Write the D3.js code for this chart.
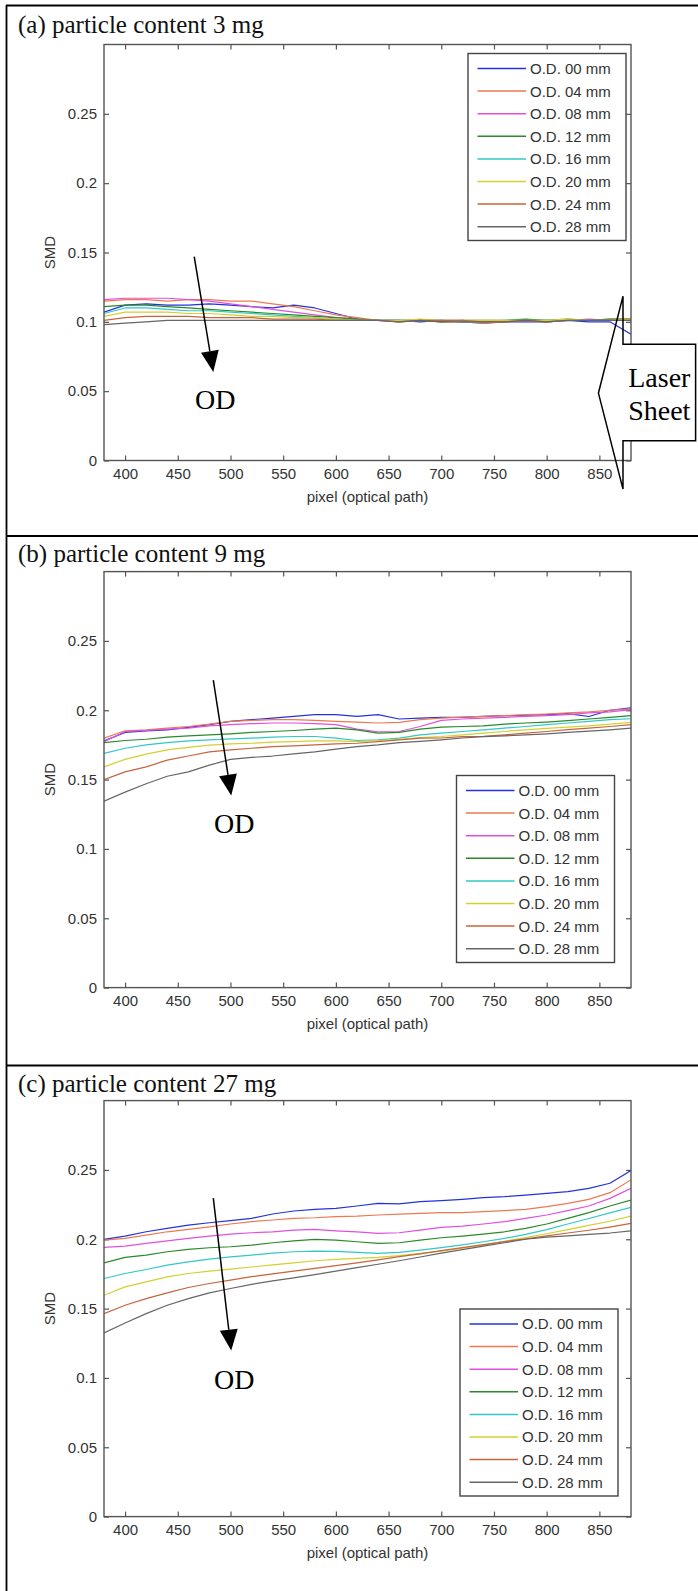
<!DOCTYPE html>
<html>
<head>
<meta charset="utf-8">
<script src="https://cdn.jsdelivr.net/npm/d3@7"></script>
<style>
  body { margin: 0; background: #fff; }
  svg { display: block; }
</style>
</head>
<body>
<div id="chart"></div>
<script>
// ---- DATA ----
const X_VALUES = [380, 400, 420, 440, 460, 480, 500, 520, 540, 560, 580, 600, 620,
  640, 660, 680, 700, 720, 740, 760, 780, 800, 820, 840, 860, 880];
const X_TICKS = [400, 450, 500, 550, 600, 650, 700, 750, 800, 850];
const Y_TICKS = [0, 0.05, 0.1, 0.15, 0.2, 0.25];
const Y_TICK_LABELS = ["0", "0.05", "0.1", "0.15", "0.2", "0.25"];
const X_DOMAIN = [380, 880];
const Y_DOMAIN = [0, 0.3];

const SERIES_LABELS = ["O.D. 00 mm", "O.D. 04 mm", "O.D. 08 mm", "O.D. 12 mm",
  "O.D. 16 mm", "O.D. 20 mm", "O.D. 24 mm", "O.D. 28 mm"];
const SERIES_COLORS = ["#2233dd", "#f07850", "#e050e0", "#2a8a2a",
  "#30c8c8", "#d4d030", "#c8643c", "#666666"];

const PANEL_TITLES = ["(a) particle content 3 mg", "(b) particle content 9 mg",
  "(c) particle content 27 mg"];

// SMD per optical depth, particle content 3 mg
const SMD_3MG = [
  [0.107,0.112,0.113,0.112,0.112,0.113,0.112,0.111,0.110,0.112,0.110,0.106,0.102,0.101,0.101,0.100,0.101,0.100,0.099,0.100,0.100,0.100,0.101,0.100,0.100,0.091],
  [0.115,0.116,0.116,0.115,0.116,0.116,0.115,0.115,0.113,0.111,0.108,0.105,0.103,0.101,0.101,0.101,0.100,0.100,0.099,0.100,0.101,0.100,0.101,0.101,0.102,0.102],
  [0.116,0.117,0.117,0.117,0.116,0.115,0.113,0.111,0.109,0.107,0.105,0.103,0.102,0.101,0.100,0.101,0.101,0.101,0.100,0.100,0.101,0.101,0.101,0.102,0.101,0.102],
  [0.111,0.112,0.112,0.111,0.110,0.109,0.108,0.107,0.106,0.105,0.104,0.103,0.102,0.101,0.101,0.101,0.100,0.101,0.101,0.101,0.102,0.101,0.102,0.101,0.102,0.102],
  [0.106,0.110,0.110,0.109,0.108,0.108,0.107,0.106,0.105,0.104,0.103,0.102,0.101,0.101,0.101,0.101,0.101,0.100,0.100,0.101,0.101,0.101,0.101,0.101,0.101,0.101],
  [0.104,0.107,0.107,0.107,0.106,0.106,0.105,0.104,0.104,0.103,0.103,0.102,0.101,0.101,0.101,0.102,0.101,0.101,0.101,0.101,0.101,0.101,0.102,0.101,0.101,0.102],
  [0.101,0.103,0.104,0.104,0.104,0.103,0.103,0.103,0.102,0.102,0.102,0.101,0.101,0.101,0.100,0.101,0.101,0.101,0.100,0.100,0.101,0.100,0.101,0.101,0.101,0.101],
  [0.098,0.099,0.100,0.101,0.101,0.101,0.101,0.101,0.101,0.101,0.101,0.101,0.101,0.101,0.100,0.101,0.100,0.100,0.100,0.100,0.101,0.100,0.101,0.101,0.101,0.101],
];

// particle content 9 mg
const SMD_9MG = [
  [0.1779,0.1840,0.1852,0.1859,0.1876,0.1896,0.1920,0.1932,0.1944,0.1956,0.1968,0.1968,0.1956,0.1968,0.1937,0.1944,0.1949,0.1949,0.1956,0.1961,0.1964,0.1968,0.1976,0.1955,0.2000,0.2017],
  [0.1799,0.1852,0.1859,0.1871,0.1883,0.1900,0.1920,0.1927,0.1932,0.1932,0.1927,0.1920,0.1915,0.1908,0.1913,0.1932,0.1944,0.1951,0.1956,0.1961,0.1968,0.1973,0.1981,0.1988,0.2000,0.2010],
  [0.1774,0.1847,0.1854,0.1864,0.1871,0.1888,0.1896,0.1903,0.1908,0.1908,0.1903,0.1896,0.1864,0.1845,0.1847,0.1883,0.1927,0.1937,0.1944,0.1949,0.1956,0.1961,0.1968,0.1981,0.1988,0.2005],
  [0.1767,0.1782,0.1791,0.1806,0.1816,0.1823,0.1830,0.1840,0.1847,0.1854,0.1864,0.1871,0.1859,0.1835,0.1840,0.1864,0.1879,0.1883,0.1888,0.1900,0.1908,0.1915,0.1925,0.1937,0.1949,0.1961],
  [0.1689,0.1726,0.1750,0.1767,0.1779,0.1786,0.1794,0.1799,0.1806,0.1811,0.1811,0.1799,0.1782,0.1786,0.1799,0.1823,0.1835,0.1847,0.1859,0.1871,0.1883,0.1896,0.1908,0.1920,0.1932,0.1939],
  [0.1592,0.1646,0.1684,0.1714,0.1733,0.1748,0.1757,0.1762,0.1770,0.1774,0.1779,0.1779,0.1774,0.1782,0.1791,0.1803,0.1811,0.1823,0.1835,0.1847,0.1859,0.1869,0.1879,0.1888,0.1900,0.1913],
  [0.1500,0.1556,0.1592,0.1640,0.1670,0.1700,0.1714,0.1726,0.1738,0.1743,0.1750,0.1757,0.1762,0.1774,0.1786,0.1799,0.1800,0.1810,0.1812,0.1823,0.1835,0.1847,0.1860,0.1871,0.1883,0.1896],
  [0.1345,0.1410,0.1470,0.1524,0.1556,0.1604,0.1646,0.1660,0.1670,0.1685,0.1700,0.1720,0.1738,0.1750,0.1767,0.1775,0.1786,0.1800,0.1810,0.1815,0.1823,0.1830,0.1840,0.1850,0.1859,0.1871],
];

// particle content 27 mg
const SMD_27MG = [
  [0.1999,0.2023,0.2054,0.2078,0.2102,0.2119,0.2134,0.2151,0.2182,0.2204,0.2216,0.2223,0.2240,0.2259,0.2255,0.2271,0.2278,0.2288,0.2300,0.2307,0.2319,0.2331,0.2343,0.2367,0.2404,0.2495],
  [0.1994,0.2006,0.2030,0.2054,0.2071,0.2090,0.2110,0.2127,0.2139,0.2151,0.2155,0.2163,0.2167,0.2175,0.2182,0.2187,0.2192,0.2192,0.2199,0.2206,0.2216,0.2235,0.2259,0.2288,0.2336,0.2428],
  [0.1941,0.1951,0.1970,0.1989,0.2006,0.2023,0.2037,0.2047,0.2054,0.2066,0.2071,0.2061,0.2054,0.2042,0.2047,0.2066,0.2086,0.2095,0.2110,0.2127,0.2151,0.2175,0.2206,0.2240,0.2295,0.2367],
  [0.1830,0.1869,0.1886,0.1910,0.1927,0.1939,0.1946,0.1958,0.1975,0.1989,0.1999,0.1994,0.1982,0.1970,0.1975,0.1994,0.2011,0.2023,0.2037,0.2054,0.2078,0.2110,0.2151,0.2192,0.2240,0.2283],
  [0.1717,0.1753,0.1782,0.1813,0.1837,0.1857,0.1873,0.1886,0.1900,0.1910,0.1915,0.1912,0.1905,0.1898,0.1905,0.1922,0.1940,0.1960,0.1982,0.2006,0.2035,0.2070,0.2110,0.2150,0.2190,0.2230],
  [0.1596,0.1657,0.1693,0.1729,0.1753,0.1770,0.1785,0.1800,0.1815,0.1830,0.1845,0.1855,0.1862,0.1870,0.1882,0.1898,0.1915,0.1935,0.1958,0.1985,0.2012,0.2040,0.2070,0.2100,0.2130,0.2167],
  [0.1464,0.1524,0.1572,0.1613,0.1652,0.1681,0.1705,0.1730,0.1750,0.1770,0.1790,0.1810,0.1830,0.1852,0.1875,0.1895,0.1918,0.1940,0.1962,0.1983,0.2003,0.2025,0.2045,0.2065,0.2088,0.2114],
  [0.1324,0.1396,0.1464,0.1524,0.1572,0.1613,0.1645,0.1675,0.1700,0.1722,0.1745,0.1770,0.1795,0.1820,0.1845,0.1872,0.1900,0.1925,0.1950,0.1975,0.2000,0.2015,0.2025,0.2035,0.2045,0.2061],
];

// "OD" arrows, data units: [x0, y0, x1, y1, labelX, labelY]
const OD_ARROWS = [
  [465.6, 0.147, 483.7, 0.0638, 485.5, 0.044],
  [483.7, 0.2217, 500.7, 0.1385, 503.6, 0.1187],
  [483.7, 0.2297, 500.7, 0.1197, 503.6, 0.0993],
];

// "Laser Sheet" callout outline in panel (a), data units
const LASER_SHEET_SHAPE = [
  [872.4, 0.1185], [872.4, 0.0839], [941.3, 0.0839], [941.3, 0.0143],
  [872.4, 0.0143], [872.4, -0.0206], [849.1, 0.0486],
];

// ---- LAYOUT ----
const W = 698, H = 1591;
const AXIS_LEFT = 104, AXIS_RIGHT = 631, AXIS_H = 416;
const SANS = "'Liberation Sans', Arial, Helvetica, sans-serif";
const SERIF = "'Liberation Serif', 'Times New Roman', Times, serif";
const AXIS_COLOR = "#555";
const TEXT_COLOR = "#333";

const panels = [
  { title: PANEL_TITLES[0], series: SMD_3MG, top: 5.5, titleY: 33, bottom: 460.5, legend: [468, 53.5], arrow: OD_ARROWS[0], laser: true },
  { title: PANEL_TITLES[1], series: SMD_9MG, top: 536, titleY: 562, bottom: 987.6, legend: [456.5, 775.5], arrow: OD_ARROWS[1] },
  { title: PANEL_TITLES[2], series: SMD_27MG, top: 1065.5, titleY: 1092, bottom: 1516.6, legend: [460, 1309], arrow: OD_ARROWS[2] },
];

const svg = d3.select("#chart")
  .append("svg")
  .attr("width", W)
  .attr("height", H);

svg.append("rect").attr("width", W).attr("height", H).attr("fill", "#fff");

// outer table frame
const frame = svg.append("g").attr("stroke", "#000").attr("stroke-width", 1.8);
frame.append("line").attr("x1", 6.5).attr("x2", 6.5).attr("y1", 5).attr("y2", H);
panels.forEach((p) => {
  frame.append("line").attr("x1", 6).attr("x2", W).attr("y1", p.top).attr("y2", p.top);
});

panels.forEach((p, pi) => drawPanel(p, pi));

function drawPanel(p, pi) {
  const x = d3.scaleLinear().domain(X_DOMAIN).range([AXIS_LEFT, AXIS_RIGHT]);
  const y = d3.scaleLinear().domain(Y_DOMAIN).range([p.bottom, p.bottom - AXIS_H]);
  const g = svg.append("g");
  const top = p.bottom - AXIS_H;

  g.append("text")
    .attr("x", 18)
    .attr("y", p.titleY)
    .attr("font-family", SERIF)
    .attr("font-size", "25px")
    .attr("fill", "#111")
    .text(p.title);

  // 1. axes (ticks on all four sides, pointing inward)
  const styleAxis = (sel) => {
    sel.select(".domain").remove();
    sel.selectAll(".tick line").attr("stroke", AXIS_COLOR).attr("stroke-width", 1.2);
    sel.selectAll(".tick text")
      .attr("fill", TEXT_COLOR)
      .attr("font-family", SANS)
      .attr("font-size", "15px");
  };

  g.append("g")
    .attr("transform", `translate(0,${p.bottom})`)
    .call(d3.axisBottom(x).tickValues(X_TICKS).tickSizeInner(-5).tickSizeOuter(0).tickPadding(8))
    .call(styleAxis);
  g.append("g")
    .attr("transform", `translate(0,${top})`)
    .call(d3.axisTop(x).tickValues(X_TICKS).tickSizeInner(-5).tickSizeOuter(0).tickFormat(""))
    .call(styleAxis);
  g.append("g")
    .attr("transform", `translate(${AXIS_LEFT},0)`)
    .call(d3.axisLeft(y).tickValues(Y_TICKS).tickFormat((d, i) => Y_TICK_LABELS[i])
      .tickSizeInner(-5).tickSizeOuter(0).tickPadding(7))
    .call(styleAxis);
  g.append("g")
    .attr("transform", `translate(${AXIS_RIGHT},0)`)
    .call(d3.axisRight(y).tickValues(Y_TICKS).tickSizeInner(-5).tickSizeOuter(0).tickFormat(""))
    .call(styleAxis);

  g.append("text")
    .attr("x", (AXIS_LEFT + AXIS_RIGHT) / 2)
    .attr("y", p.bottom + 41)
    .attr("text-anchor", "middle")
    .attr("font-family", SANS)
    .attr("font-size", "15px")
    .attr("fill", TEXT_COLOR)
    .text("pixel (optical path)");

  g.append("text")
    .attr("transform", `translate(50,${(top + p.bottom) / 2}) rotate(-90)`)
    .attr("text-anchor", "middle")
    .attr("dy", "0.35em")
    .attr("font-family", SANS)
    .attr("font-size", "15px")
    .attr("fill", TEXT_COLOR)
    .text("SMD");

  // 2. lines
  const clipId = `clip-${pi}`;
  g.append("clipPath").attr("id", clipId)
    .append("rect")
    .attr("x", AXIS_LEFT).attr("y", top)
    .attr("width", AXIS_RIGHT - AXIS_LEFT).attr("height", AXIS_H);

  const line = d3.line()
    .x((d, i) => x(X_VALUES[i]))
    .y((d) => y(d));

  g.append("g")
    .attr("clip-path", `url(#${clipId})`)
    .selectAll("path")
    .data(p.series)
    .join("path")
    .attr("d", line)
    .attr("fill", "none")
    .attr("stroke", (d, i) => SERIES_COLORS[i])
    .attr("stroke-width", 1.2)
    .attr("stroke-linejoin", "round");

  // axes box on top of the lines
  g.append("rect")
    .attr("x", AXIS_LEFT).attr("y", top)
    .attr("width", AXIS_RIGHT - AXIS_LEFT).attr("height", AXIS_H)
    .attr("fill", "none")
    .attr("stroke", AXIS_COLOR)
    .attr("stroke-width", 1.4);

  // 3. legend
  const [lx, ly] = p.legend;
  const legend = g.append("g").attr("transform", `translate(${lx},${ly})`);
  legend.append("rect")
    .attr("width", 158).attr("height", 187)
    .attr("fill", "#fff")
    .attr("stroke", "#444")
    .attr("stroke-width", 1.4);
  legend.selectAll("g")
    .data(SERIES_LABELS)
    .join("g")
    .attr("transform", (d, i) => `translate(0,${15 + i * 22.6})`)
    .each(function (d, i) {
      const row = d3.select(this);
      row.append("line")
        .attr("x1", 9.5).attr("x2", 58)
        .attr("stroke", SERIES_COLORS[i])
        .attr("stroke-width", 1.5);
      row.append("text")
        .attr("x", 62)
        .attr("dy", "0.36em")
        .attr("font-family", SANS)
        .attr("font-size", "15px")
        .attr("fill", TEXT_COLOR)
        .text(d);
    });

  // 4. OD arrow
  const [ax0, ay0, ax1, ay1, tx, ty] = p.arrow;
  const x0 = x(ax0), y0 = y(ay0), x1 = x(ax1), y1 = y(ay1);
  const len = Math.hypot(x1 - x0, y1 - y0);
  const ux = (x1 - x0) / len, uy = (y1 - y0) / len;
  const headL = 21, headW = 9;
  const bx = x1 - ux * headL, by = y1 - uy * headL;
  g.append("line")
    .attr("x1", x0).attr("y1", y0).attr("x2", bx).attr("y2", by)
    .attr("stroke", "#000").attr("stroke-width", 1.5);
  g.append("path")
    .attr("d", `M${x1},${y1}L${bx - uy * headW},${by + ux * headW}L${bx + uy * headW},${by - ux * headW}Z`)
    .attr("fill", "#000");
  g.append("text")
    .attr("x", x(tx)).attr("y", y(ty))
    .attr("dy", "0.35em")
    .attr("text-anchor", "middle")
    .attr("font-family", SERIF)
    .attr("font-size", "28px")
    .attr("fill", "#000")
    .text("OD");

  // 5. laser sheet callout (panel a only)
  if (p.laser) {
    const pts = LASER_SHEET_SHAPE.map(([a, b]) => [x(a), y(b)]);
    g.append("rect")
      .attr("x", pts[1][0]).attr("y", pts[1][1])
      .attr("width", pts[2][0] - pts[1][0])
      .attr("height", pts[3][1] - pts[2][1])
      .attr("fill", "#fff");
    g.append("path")
      .attr("d", d3.line()(pts) + "Z")
      .attr("fill", "none")
      .attr("stroke", "#000")
      .attr("stroke-width", 1.5);
    const cx = (pts[1][0] + pts[2][0]) / 2;
    g.append("text")
      .attr("x", cx).attr("y", pts[1][1] + 43)
      .attr("text-anchor", "middle")
      .attr("font-family", SERIF)
      .attr("font-size", "28px")
      .text("Laser");
    g.append("text")
      .attr("x", cx).attr("y", pts[1][1] + 76)
      .attr("text-anchor", "middle")
      .attr("font-family", SERIF)
      .attr("font-size", "28px")
      .text("Sheet");
  }
}
</script>
</body>
</html>
